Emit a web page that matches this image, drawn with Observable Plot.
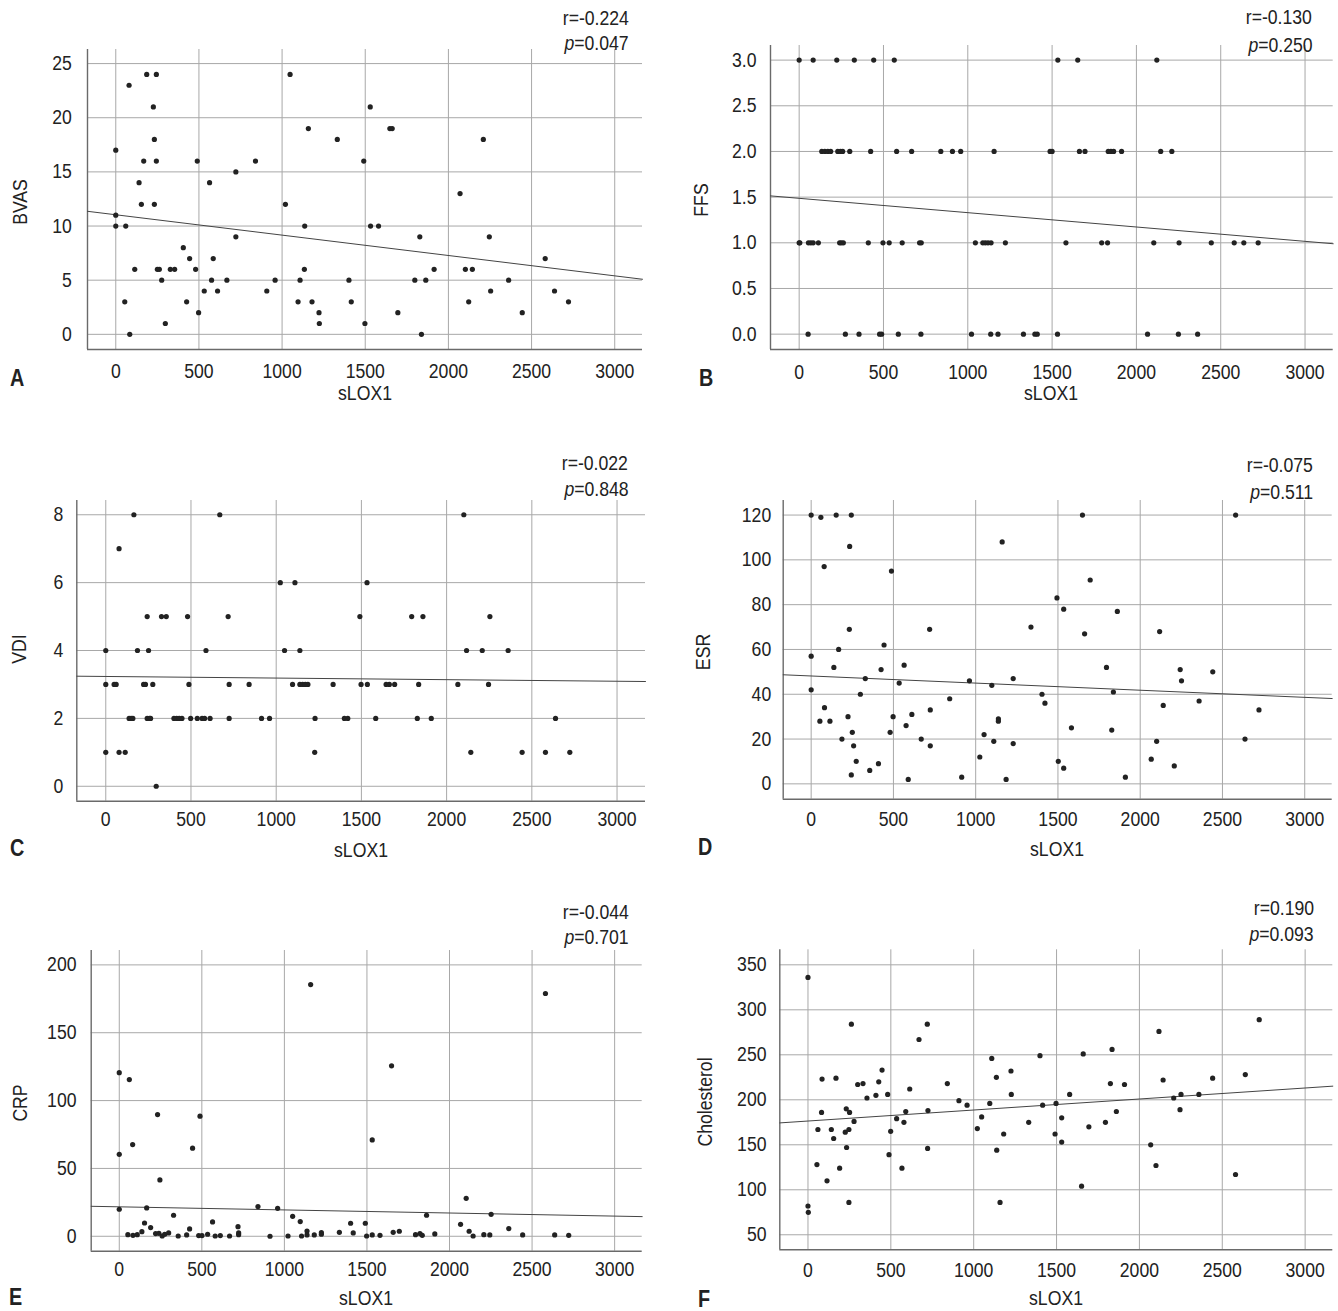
<!DOCTYPE html>
<html><head><meta charset="utf-8">
<script src="https://cdn.jsdelivr.net/npm/d3@7"></script>
<script src="https://cdn.jsdelivr.net/npm/@observablehq/plot@0.6"></script>
<style>
body{margin:0;background:#fff;}
#page{position:relative;width:1338px;height:1311px;overflow:hidden;font-family:"Liberation Sans",Arial,sans-serif;color:#222;}
.p{position:absolute;}
.t{position:absolute;white-space:nowrap;font-size:20.5px;line-height:1;}
</style></head><body><div id="page"></div>
<script>
// ---------- data ----------
const xTicks = [0, 500, 1000, 1500, 2000, 2500, 3000];
const xDomain = [-170, 3167];

const xA = [0,0,0,80,60,54,84,114,140,154,168,186,244,226,232,244,232,250,262,276,298,328,354,406,426,444,480,490,498,532,564,576,586,612,668,722,722,840,908,958,1020,1048,1096,1108,1134,1136,1158,1180,1222,1224,1332,1402,1416,1491,1498,1530,1532,1580,1648,1662,1696,1798,1828,1838,1864,1914,2070,2102,2122,2144,2210,2246,2254,2362,2444,2582,2638,2722];
const yA = [17,11,10,23,10,3,0,6,14,12,16,24,24,21,18,16,12,6,6,5,1,6,6,8,3,7,6,16,2,4,14,5,7,4,5,15,9,16,4,5,12,24,3,5,6,10,19,3,2,1,18,5,3,16,1,21,10,10,19,19,2,5,9,0,5,6,13,6,3,6,18,9,4,5,2,7,4,3];

const xB = [0,83,223,327,442,564,1534,1652,2121,
  134,152,170,187,229,245,258,300,424,578,667,840,909,958,1156,1488,1500,1662,1695,1833,1849,1865,1912,2144,2210,
  0,4,55,69,83,114,240,250,262,410,497,534,611,714,724,1045,1089,1104,1120,1138,1223,1582,1794,1829,2103,2253,2444,2580,2637,2722,
  53,274,355,477,489,588,722,1022,1136,1179,1330,1398,1412,1532,2066,2249,2363];
const yB = [3,3,3,3,3,3,3,3,3,
  2,2,2,2,2,2,2,2,2,2,2,2,2,2,2,2,2,2,2,2,2,2,2,2,2,
  1,1,1,1,1,1,1,1,1,1,1,1,1,1,1,1,1,1,1,1,1,1,1,1,1,1,1,1,1,1,
  0,0,0,0,0,0,0,0,0,0,0,0,0,0,0,0,0];

const xC = [165,669,2101, 78, 1024,1110,1533,
  243,327,355,480,718,1491,1795,1861,2254,
  0,186,251,588,1049,1139,2117,2209,2361,
  0,49,61,222,233,276,488,724,841,1096,1139,1155,1171,1186,1334,1498,1535,1645,1664,1695,1836,2066,2246,
  137,149,159,243,257,263,400,416,431,447,498,537,565,580,612,724,914,961,1228,1400,1420,1584,1828,1910,2639,
  0,78,114,1226,2142,2443,2580,2723, 296];
const yC = [8,8,8, 7, 6,6,6,
  5,5,5,5,5,5,5,5,5,
  4,4,4,4,4,4,4,4,4,
  3,3,3,3,3,3,3,3,3,3,3,3,3,3,3,3,3,3,3,3,3,3,3,
  2,2,2,2,2,2,2,2,2,2,2,2,2,2,2,2,2,2,2,2,2,2,2,2,2,
  1,1,1,1,1,1,1,1, 0];

const xD = [0,59,152,244,234,79,488,1161,0,0,81,53,114,138,167,232,224,250,258,274,244,187,299,329,356,409,425,443,480,498,535,565,577,590,612,669,720,724,724,842,915,962,1025,1051,1098,1110,1138,1138,1185,1228,1228,1336,1403,1421,1494,1502,1535,1535,1582,1649,2580,1696,1861,1662,2118,1795,2243,2441,2251,1837,2140,2358,2722,1827,2100,2637,2067,2207,1910];
const yD = [120,119,120,120,106,97,95,108,57,42,34,28,28,52,60,69,30,23,17,10,4,20,40,47,6,9,51,62,23,30,45,53,26,2,31,20,69,33,17,38,3,46,12,22,44,19,29,28,2,47,18,70,40,36,83,10,78,7,25,120,120,91,77,67,68,52,51,50,46,41,35,37,33,24,19,20,11,8,3];

const xE = [0,61,0,81,0,232,489,444,246,1159,1532,52,83,109,137,153,166,190,220,240,260,275,299,329,357,408,426,481,501,535,565,581,612,668,719,723,723,840,913,959,1022,1050,1096,1104,1137,1137,1181,1224,1224,1333,1401,1417,1490,1498,1532,1579,2581,1649,2101,1861,2252,2067,2359,1659,1696,1794,1821,1835,1911,2119,2143,2208,2244,2443,2637,2722];
const yE = [120.6,115.5,60.4,67.6,19.9,89.7,88.5,64.9,41.5,185.5,71,1.2,0.7,1.2,3.4,9.8,20.9,6.4,2,2.2,0.2,1.5,2.5,15.5,0.2,1,5.4,0.5,0.5,1.5,10.6,0.2,0.5,0.2,7.1,2.5,1.2,21.9,0,20.6,0.2,14.7,10.8,0.2,3.9,1,1,2.7,1.5,2.9,9.6,2.5,9.6,0.2,1,0.7,178.9,125.6,28,15.5,16.2,8.8,5.7,2.9,3.7,1.2,2,0.7,1.7,3.7,0.2,1.2,1,1,1,0.7];

const xF = [0,0,2,54,60,82,85,115,141,155,169,191,225,231,233,247,251,247,262,278,300,332,356,410,427,447,481,489,499,535,567,579,590,614,670,720,724,722,841,911,960,1022,1048,1097,1109,1137,1139,1159,1181,1225,1227,1332,1400,1416,1491,1497,1531,1531,1579,2723,2118,1835,1661,2639,2442,2143,1825,1910,2251,2359,2207,1861,2245,1795,1695,2068,2100,2580,1651];
const yF = [336,82,75,128,167,186,223,110,167,157,224,124,164,190,147,167,186,86,284,176,217,218,202,205,220,233,206,139,165,179,124,175,187,212,267,284,188,146,218,199,194,168,181,196,246,225,144,86,162,232,206,175,249,194,162,196,180,153,206,289,276,256,251,228,224,222,218,217,206,206,202,187,189,175,170,150,127,117,104];

const yTicksA = [0,5,10,15,20,25];
const yTicksB = [0,0.5,1,1.5,2,2.5,3];
const yTicksC = [0,2,4,6,8];
const yTicksD = [0,20,40,60,80,100,120];
const yTicksE = [0,50,100,150,200];
const yTicksF = [50,100,150,200,250,300,350];

const yLabels = ["BVAS","FFS","VDI","ESR","CRP","Cholesterol"];
const letters = ["A","B","C","D","E","F"];
const rTexts = ["r=-0.224","r=-0.130","r=-0.022","r=-0.075","r=-0.044","r=0.190"];
const pTexts = ["0.047","0.250","0.848","0.511","0.701","0.093"];
const fitIntercepts = [11.04, 1.487, 3.235, 48.16, 21.7, 176.4];
const fitSlopes = [-0.00188, -0.000157, -0.000047, -0.00318, -0.00228, 0.01224];

// ---------- layout ----------
const page = document.getElementById("page");
const FONT = '"Liberation Sans",Arial,sans-serif';
const GRID = "#a8a8a8", AXIS = "#6a6a6a";
const SQUEEZE = 0.86;

const panels = [
  {xs:xA, ys:yA, ticks:yTicksA, yDomain:[-1.4,26.3], fmt:d=>String(d), left:0, top:0, m:[49,27,91,87], padY:15.6, padX:13.7,
   ylab:[19.5,201.7], xlab:[364.5,393], letter:[10,378], r:[629,18.3], p:[629,42.7]},
  {xs:xB, ys:yB, ticks:yTicksB, yDomain:[-0.168,3.16], fmt:d=>d.toFixed(1), left:669, top:0, m:[45,5.3,91,101], padY:14, padX:15,
   ylab:[700.5,200], xlab:[1051,393], letter:[699,378], r:[1312.3,16.7], p:[1312.3,45]},
  {xs:xC, ys:yC, ticks:yTicksC, yDomain:[-0.44,8.42], fmt:d=>String(d), left:0, top:440, m:[60,24,79.3,76.3], padY:13.6, padX:10,
   ylab:[19,649], xlab:[360.5,850], letter:[10,848], r:[628.3,463.3], p:[628.3,489.3]},
  {xs:xD, ys:yD, ticks:yTicksD, yDomain:[-6.85,126.5], fmt:d=>String(d), left:669, top:440, m:[60,6.3,81.3,113.7], padY:12, padX:12,
   ylab:[702.5,651.7], xlab:[1057,849], letter:[698,847], r:[1313.3,465], p:[1313.3,491.7]},
  {xs:xE, ys:yE, ticks:yTicksE, yDomain:[-11,210.6], fmt:d=>String(d), left:0, top:880, m:[70,27.3,69.3,90.7], padY:14.7, padX:10,
   ylab:[20,1102.7], xlab:[366,1298], letter:[9,1297], r:[629,911.7], p:[629,937.3]},
  {xs:xF, ys:yF, ticks:yTicksF, yDomain:[33.3,366.7], fmt:d=>String(d), left:669, top:880, m:[69.3,5.7,70.7,110.3], padY:13.3, padX:12.7,
   ylab:[705,1101.7], xlab:[1056,1298], letter:[698,1299], r:[1314,908.3], p:[1314,934]}
];

function addText(html, x, y, mode, extra) {
  const d = document.createElement("div");
  d.className = "t";
  d.innerHTML = html;
  const sq = ` scale(${SQUEEZE},1)`;
  if (mode === "center") { d.style.left = x + "px"; d.style.top = y + "px"; d.style.transform = "translate(-50%,-50%)" + sq; }
  else if (mode === "rot") { d.style.left = x + "px"; d.style.top = y + "px"; d.style.transform = "translate(-50%,-50%) rotate(-90deg)" + sq; }
  else if (mode === "right") { d.style.right = (1338 - x) + "px"; d.style.top = y + "px"; d.style.transformOrigin = "100% 50%"; d.style.transform = "translateY(-50%)" + sq; }
  else if (mode === "left") { d.style.left = x + "px"; d.style.top = y + "px"; d.style.transformOrigin = "0% 50%"; d.style.transform = "translateY(-50%)" + sq; }
  if (extra) Object.assign(d.style, extra);
  page.appendChild(d);
}

panels.forEach((P, i) => {
  const pts = P.xs.map((x, j) => ({x, y: P.ys[j]}));
  const fit = xDomain.map(x => ({x, y: fitIntercepts[i] + fitSlopes[i] * x}));
  const [mt, mr, mb, ml] = P.m;
  const chart = Plot.plot({
    width: 669, height: 440,
    marginTop: mt, marginRight: mr, marginBottom: mb, marginLeft: ml,
    style: {fontFamily: FONT, fontSize: "20.5px", color: "#222", background: "transparent"},
    x: {domain: xDomain},
    y: {domain: P.yDomain},
    marks: [
      Plot.gridX(xTicks, {stroke: GRID, strokeOpacity: 1, strokeWidth: 1}),
      Plot.gridY(P.ticks, {stroke: GRID, strokeOpacity: 1, strokeWidth: 1}),
      Plot.ruleX([xDomain[0]], {stroke: AXIS, strokeWidth: 1.4}),
      Plot.ruleY([P.yDomain[0]], {stroke: AXIS, strokeWidth: 1.4}),
      Plot.axisX({ticks: xTicks, tickSize: 0, tickPadding: P.padX, tickFormat: d => String(d), label: null, fill: "#222"}),
      Plot.axisY({ticks: P.ticks, tickSize: 0, tickPadding: P.padY, tickFormat: P.fmt, label: null, fill: "#222"}),
      Plot.line(fit, {x: "x", y: "y", stroke: "#444", strokeWidth: 1}),
      Plot.dot(pts, {x: "x", y: "y", r: 2.6, fill: "#222", stroke: "none"})
    ]
  });
  // condense tick labels horizontally around their anchor point (x only)
  d3.select(chart).selectAll("text").each(function () {
    const t = d3.select(this);
    const xa = t.attr("x");
    let tx = 0;
    if (xa != null && /^-?[\d.]+$/.test(xa)) { tx = +xa; t.attr("x", null); }
    const tr = t.attr("transform") || "";
    t.attr("transform", `${tr} translate(${tx},0) scale(${SQUEEZE},1)`);
  });
  const wrap = document.createElement("div");
  wrap.className = "p";
  wrap.style.left = P.left + "px";
  wrap.style.top = P.top + "px";
  wrap.appendChild(chart);
  page.appendChild(wrap);

  addText(yLabels[i], P.ylab[0], P.ylab[1], "rot");
  addText("sLOX1", P.xlab[0], P.xlab[1], "center");
  addText(letters[i], P.letter[0], P.letter[1], "left", {fontWeight: "bold", fontSize: "23px"});
  addText(rTexts[i], P.r[0], P.r[1], "right");
  addText("<i>p</i>=" + pTexts[i], P.p[0], P.p[1], "right");
});
</script>
</body></html>
